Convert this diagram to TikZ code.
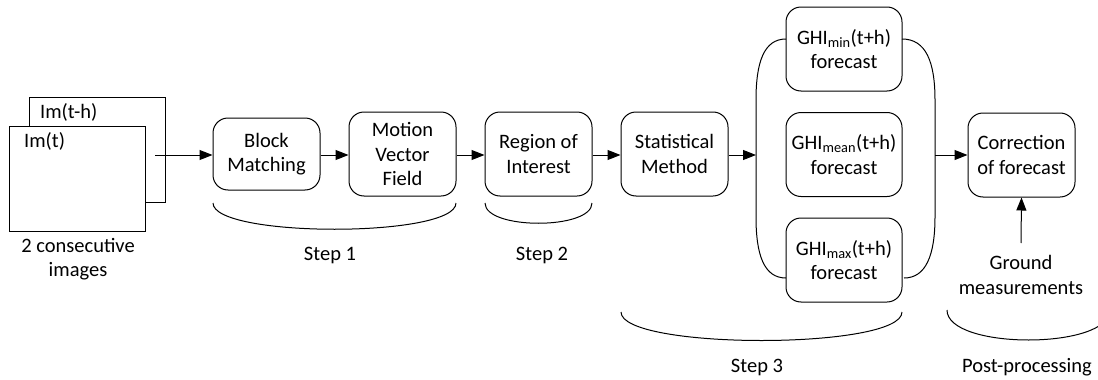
\documentclass[tikz,border=0pt]{standalone}
\usepackage{fontspec}
\setmainfont{Carlito}
\usetikzlibrary{arrows.meta}
\begin{document}
\begin{tikzpicture}[x=1pt,y=-1pt,
  every node/.style={font=\fontsize{20.5}{24.5}\selectfont, align=center, inner sep=0pt},
  proc/.style={draw, rounded corners=15pt, minimum width=107pt, minimum height=84pt, line width=1pt},
  img/.style={draw, fill=white, minimum width=136pt, minimum height=105pt, line width=1pt},
  arr/.style={line width=1pt, -{Triangle[length=13pt,width=10pt]}},
  brace/.style={line width=1pt}
]
\clip (0,0) rectangle (1098,380);
\fill[white] (0,0) rectangle (1098,380);
% images
\node[img] (back) at (97,149.5) {};
\node[img] (front) at (77.5,178.5) {};
\node[anchor=base west] (lblb) at (40,118) {Im(t-h)};
\node[anchor=base west] (lblf) at (24,147) {Im(t)};
\node (imgtxt) at (78,259) {2 consecutive\\images};
\coordinate (src) at (155,155);
% process boxes
\node[proc, minimum height=72pt] (bm) at (266.5,154) {Block\\Matching};
\node[proc] (mvf) at (402.5,154) {Motion\\Vector\\Field};
\node[proc] (roi) at (538.5,154) {Region of\\Interest};
\node[proc] (stat) at (674.5,154) {Statistical\\Method};
\node[proc, minimum width=116pt] (gmin) at (844,49) {GHI\textsubscript{min}(t+h)\\forecast};
\node[proc, minimum width=116pt] (gmean) at (844,154.5) {GHI\textsubscript{mean}(t+h)\\forecast};
\node[proc, minimum width=116pt] (gmax) at (844,260) {GHI\textsubscript{max}(t+h)\\forecast};
\node[proc] (corr) at (1021.5,155) {Correction\\of forecast};
\node (ground) at (1021,275) {Ground\\measurements};
% arrows
\draw[arr] (src) -- (bm.west |- src);
\draw[arr] (bm.east |- src) -- (mvf.west |- src);
\draw[arr] (mvf.east |- src) -- (roi.west |- src);
\draw[arr] (roi.east |- src) -- (stat.west |- src);
\coordinate (lb) at (756,155);
\coordinate (rb) at (935,155);
\coordinate (gtop) at (1021,243);
\draw[arr] (stat.east |- lb) -- (lb);
\draw[arr] (rb) -- (corr.west |- rb);
\draw[arr] (gtop) -- (corr.south);
% vertical braces
\draw[brace] (786,39) .. controls (764,39) and (756,62) .. (756,100) -- (lb) -- (756,217) .. controls (756,255) and (764,278) .. (786,278);
\draw[brace] (902,39) .. controls (926,39) and (935,62) .. (935,100) -- (rb) -- (935,217) .. controls (935,255) and (926,278) .. (904,278);
% bottom braces
\draw[brace] (213,203) .. controls (213,238) and (456,238) .. (456,203);
\draw[brace] (485,203) .. controls (485,230) and (592,230) .. (592,203);
\draw[brace] (621,312) .. controls (621,350) and (902,350) .. (902,312);
\draw[brace] (947,310) .. controls (947,350) and (1110,350) .. (1110,310);
\node (s1) at (330,255) {Step 1};
\node (s2) at (542,255) {Step 2};
\node (s3) at (757,367) {Step 3};
\node (s4) at (1027,367) {Post-processing};
\end{tikzpicture}
\end{document}
